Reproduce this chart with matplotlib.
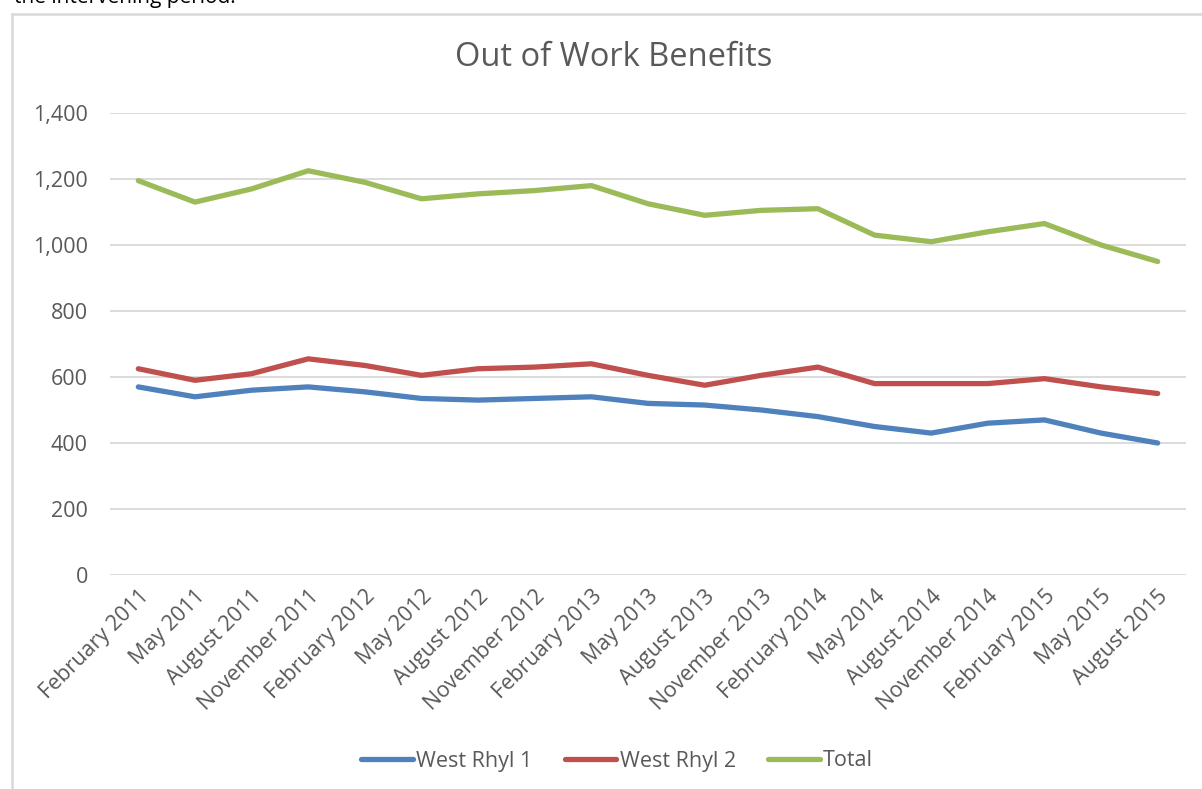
import matplotlib
matplotlib.use('Agg')
import matplotlib.pyplot as plt
from matplotlib.lines import Line2D
from matplotlib.ticker import FuncFormatter

plt.rcParams['font.family'] = ['Open Sans', 'DejaVu Sans']

months = ["February 2011", "May 2011", "August 2011", "November 2011",
          "February 2012", "May 2012", "August 2012", "November 2012",
          "February 2013", "May 2013", "August 2013", "November 2013",
          "February 2014", "May 2014", "August 2014", "November 2014",
          "February 2015", "May 2015", "August 2015"]
west_rhyl_1 = [570, 540, 560, 570, 555, 535, 530, 535, 540, 520,
               515, 500, 480, 450, 430, 460, 470, 430, 400]
west_rhyl_2 = [625, 590, 610, 655, 635, 605, 625, 630, 640, 605,
               575, 605, 630, 580, 580, 580, 595, 570, 550]
total = [1195, 1130, 1170, 1225, 1190, 1140, 1155, 1165, 1180, 1125,
         1090, 1105, 1110, 1030, 1010, 1040, 1065, 1000, 950]

txt = '#595959'
W, H = 1202, 789
fig = plt.figure(figsize=(W / 100, H / 100), dpi=100)
ax = fig.add_axes([110 / W, 1 - 575 / H, (1186 - 110) / W, (575 - 113) / H])

x = range(len(months))
ax.plot(x, west_rhyl_1, color='#4F81BD', lw=3.8, solid_capstyle='round', label='West Rhyl 1')
ax.plot(x, west_rhyl_2, color='#C0504D', lw=3.8, solid_capstyle='round', label='West Rhyl 2')
ax.plot(x, total, color='#9BBB59', lw=3.8, solid_capstyle='round', label='Total')

ax.set_xlim(-0.5, len(months) - 0.5)
ax.set_ylim(0, 1400)
ax.set_yticks(range(0, 1401, 200))
ax.yaxis.set_major_formatter(FuncFormatter(lambda v, p: f"{int(v):,}"))
ax.set_xticks(list(x))
ax.set_xticklabels(months, rotation=45, ha='right', rotation_mode='anchor')
ax.grid(axis='y', color='#D9D9D9', lw=1.3)
ax.set_axisbelow(True)
for s in ax.spines.values():
    s.set_visible(False)
ax.tick_params(axis='both', length=0, labelsize=15.5, colors=txt)
ax.tick_params(axis='y', pad=16)
ax.tick_params(axis='x', pad=8)

fig.text(614 / W, 1 - 58 / H, "Out of Work Benefits", fontsize=23.5, color=txt,
         ha='center', va='center')

fig.legend(loc='center', bbox_to_anchor=(617 / W, 1 - 761 / H), ncol=3, frameon=False,
           fontsize=15.5, labelcolor=txt, handlelength=2.4, handletextpad=0.15,
           columnspacing=1.5)

# chart frame (left and top edges visible)
fig.add_artist(Line2D([12 / W, 12 / W], [0, 1 - 14 / H], color='#D9D9D9', lw=1.8))
fig.add_artist(Line2D([12 / W, 1], [1 - 14 / H, 1 - 14 / H], color='#D9D9D9', lw=1.8))

# cut-off text from the page above
fig.text(14 / W, 1 - 3 / H, "the intervening period.", fontsize=15, color='black',
         va='baseline', ha='left')

fig.savefig('out.png', dpi=100)
